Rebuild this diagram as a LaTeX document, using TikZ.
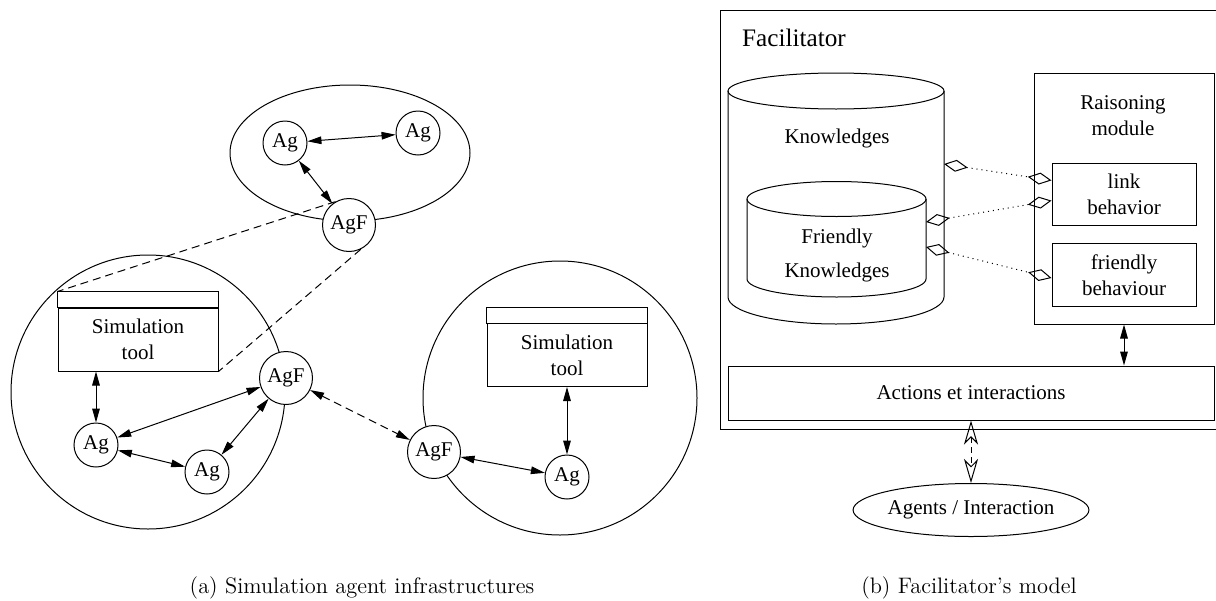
\documentclass[tikz,border=0pt]{standalone}
\usepackage{fontspec}
\newfontfamily\figfont{Liberation Serif}
\usetikzlibrary{arrows.meta,calc,shapes.geometric}

\begin{document}
\begin{tikzpicture}[x=0.5pt, y=-0.5pt, line width=0.5pt,
  font=\figfont\fontsize{10.5}{13}\selectfont,
  grp/.style={draw, inner sep=0pt},
  ag/.style={circle, draw, fill=white, inner sep=0pt, minimum size=22pt},
  agf/.style={ag, minimum size=26.5pt},
  tool/.style={draw, align=center, inner sep=0pt, minimum width=80pt, minimum height=31.5pt},
  mbox/.style={draw, align=center, inner sep=0pt},
  arr/.style={{Triangle[length=7pt,width=3.8pt]}-{Triangle[length=7pt,width=3.8pt]}},
  proj/.style={dash pattern=on 4pt off 2.5pt},
  link/.style={dotted, {Diamond[open,length=12pt,width=6pt]}-{Diamond[open,length=12pt,width=6pt]}},
  msg/.style={dash pattern=on 3pt off 2pt, {Stealth[open,length=12pt,width=7pt,inset=3.5pt]}-{Stealth[open,length=12pt,width=7pt,inset=3.5pt]}},
  capt/.style={font=\rmfamily\fontsize{11.2}{13}\selectfont}]

\useasboundingbox (0,0) rectangle (1216,600);

% (a) groups of agents
\node[grp, ellipse, minimum width=120pt, minimum height=68pt] (grpA) at (350,153) {};
\node[grp, circle, minimum size=137pt] (grpB) at (148,392) {};
\node[grp, circle, minimum size=137pt] (grpC) at (560,398) {};

\node[ag] (agA1) at (285,143) {Ag};
\node[ag] (agA2) at (418,133) {Ag};
\node[agf] (agfA) at (349,225) {AgF};
\draw[arr] (agA1) -- (agA2);
\draw[arr] (agA1) -- (agfA);

\node[tool] (toolB) at (138,339.5) {Simulation\\tool};
\draw (toolB.north west) rectangle ([yshift=8pt]toolB.north east);
\node[agf] (agfB) at (286,378) {AgF};
\node[ag] (agB1) at (96,445) {Ag};
\node[ag] (agB2) at (207,472) {Ag};
\draw[arr] (agB1 |- toolB.south) -- (agB1);
\draw[arr] (agB1) -- (agfB);
\draw[arr] (agB1) -- (agB2);
\draw[arr] (agB2) -- (agfB);

\draw[proj] (agfA.120) -- ([yshift=8pt]toolB.north west);
\draw[proj] (agfA.-64) -- (toolB.south east);

\node[tool] (toolC) at (567,355) {Simulation\\tool};
\draw (toolC.north west) rectangle ([yshift=8pt]toolC.north east);
\node[agf] (agfC) at (434,452) {AgF};
\node[ag] (agC) at (567,477) {Ag};
\draw[arr] (toolC.south) -- (agC);
\draw[arr] (agfC) -- (agC);
\draw[arr, proj] (agfB) -- (agfC);

% (b) facilitator
\draw (1220,10) -- (720,10) -- (720,429) -- (1220,429);
\node[anchor=west, font=\figfont\fontsize{12.6}{15}\selectfont] (facT) at (735,38) {Facilitator};

\draw (836,91) ellipse [x radius=108, y radius=18];
\draw (728,91) -- (728,297) arc [start angle=180, end angle=0, x radius=108, y radius=27] -- (944,91);
\node (knw) at (837,138) {Knowledges};
\draw (836.5,199) ellipse [x radius=89.5, y radius=17.5];
\draw (747,199) -- (747,279) arc [start angle=180, end angle=0, x radius=89.5, y radius=18] -- (926,199);
\node[align=center] (fknw) at (837,255) {Friendly\\[4pt]Knowledges};
\coordinate (knwR) at (944,164);
\coordinate (fknwR1) at (926,222);
\coordinate (fknwR2) at (926,247);

\node[mbox, minimum width=90pt, minimum height=125.5pt] (rais) at (1124,198.5) {};
\node[align=center] (raisT) at (1123,116) {Raisoning\\module};
\node[mbox, minimum width=72pt, minimum height=31pt] (lnk) at (1124,194) {link\\behavior};
\node[mbox, minimum width=72pt, minimum height=31.5pt] (frd) at (1124,275) {friendly\\behaviour};

\draw[link] (knwR) -- ($(lnk.west)+(0,-13.6)$);
\draw[link] (fknwR1) -- ($(lnk.west)+(0,6.6)$);
\draw[link] (fknwR2) -- ($(frd.west)+(0,3)$);

\node[mbox, minimum width=243pt, minimum height=27pt] (act) at (971,393) {Actions et interactions};
\draw[arr] (rais.south) -- (rais.south |- act.north);

\node[mbox, ellipse, minimum width=117pt, minimum height=26.5pt] (agi) at (971,510) {Agents / Interaction};
\draw[msg] (act.south) -- (agi.north);

% captions
\node[capt] (capA) at (362,588) {(a) Simulation agent infrastructures};
\node[capt] (capB) at (969,588) {(b) Facilitator's model};
\end{tikzpicture}
\end{document}
